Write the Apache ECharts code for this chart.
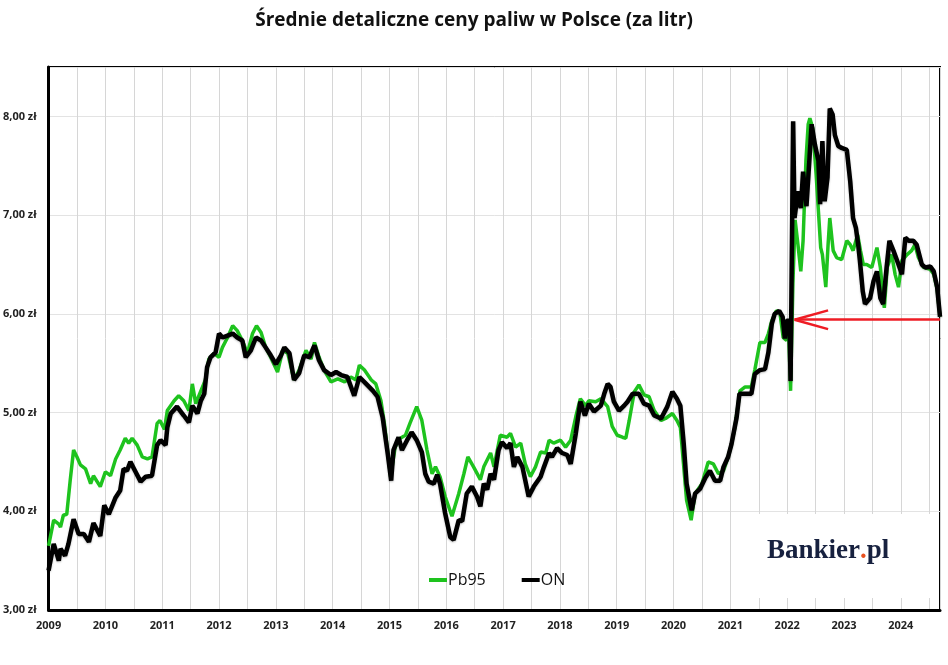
<!DOCTYPE html>
<html>
<head>
<meta charset="utf-8">
<script src="https://cdn.jsdelivr.net/npm/echarts@6/dist/echarts.min.js"></script>
<style>
  html, body { margin: 0; padding: 0; background: #fff; }
  #container { width: 948px; height: 665px; }
</style>
</head>
<body>
<div id="container"></div>
<script>
// [decimal year, price in zł]
let pb95 = [
  [2009.00,3.65],[2009.09,3.91],[2009.18,3.87],[2009.21,3.84],[2009.26,3.96],[2009.32,3.97],
  [2009.38,4.31],[2009.44,4.62],[2009.50,4.55],[2009.56,4.47],[2009.65,4.43],[2009.74,4.28],
  [2009.79,4.36],[2009.91,4.25],[2010.00,4.40],[2010.09,4.36],[2010.18,4.53],[2010.26,4.62],
  [2010.35,4.74],[2010.41,4.69],[2010.47,4.74],[2010.56,4.67],[2010.65,4.55],[2010.74,4.53],
  [2010.82,4.55],[2010.91,4.89],[2010.96,4.92],[2011.04,4.83],[2011.09,5.02],[2011.21,5.12],
  [2011.29,5.17],[2011.38,5.12],[2011.47,5.02],[2011.53,5.29],[2011.59,5.09],[2011.68,5.22],
  [2011.76,5.33],[2011.82,5.54],[2011.91,5.60],[2012.00,5.56],[2012.06,5.66],[2012.15,5.76],
  [2012.24,5.88],[2012.32,5.83],[2012.41,5.73],[2012.50,5.60],[2012.59,5.80],[2012.66,5.88],
  [2012.74,5.81],[2012.82,5.66],[2012.91,5.56],[2013.03,5.41],[2013.12,5.63],[2013.21,5.60],
  [2013.32,5.33],[2013.41,5.43],[2013.53,5.63],[2013.62,5.54],[2013.68,5.71],[2013.76,5.56],
  [2013.85,5.43],[2013.97,5.31],[2014.09,5.34],[2014.21,5.31],[2014.32,5.36],[2014.41,5.33],
  [2014.47,5.48],[2014.56,5.43],[2014.68,5.33],[2014.76,5.29],[2014.85,5.12],[2014.91,4.89],
  [2015.02,4.35],[2015.10,4.65],[2015.19,4.74],[2015.28,4.77],[2015.36,4.89],[2015.48,5.06],
  [2015.57,4.92],[2015.66,4.62],[2015.75,4.38],[2015.81,4.45],[2015.89,4.35],[2015.98,4.15],
  [2016.10,3.95],[2016.22,4.18],[2016.31,4.38],[2016.38,4.55],[2016.48,4.45],[2016.60,4.32],
  [2016.66,4.45],[2016.78,4.59],[2016.84,4.45],[2016.95,4.77],[2017.07,4.75],[2017.13,4.79],
  [2017.22,4.65],[2017.31,4.69],[2017.39,4.48],[2017.48,4.35],[2017.57,4.45],[2017.66,4.60],
  [2017.75,4.59],[2017.81,4.72],[2017.89,4.69],[2018.01,4.72],[2018.10,4.65],[2018.19,4.72],
  [2018.28,4.96],[2018.36,5.14],[2018.45,5.07],[2018.51,5.12],[2018.63,5.11],[2018.72,5.14],
  [2018.84,5.06],[2018.92,4.86],[2019.01,4.77],[2019.10,4.75],[2019.16,4.74],[2019.22,4.92],
  [2019.31,5.21],[2019.39,5.28],[2019.48,5.18],[2019.57,5.16],[2019.66,5.02],[2019.78,4.92],
  [2019.86,4.94],[2019.98,4.99],[2020.06,4.92],[2020.12,4.85],[2020.18,4.45],[2020.23,4.11],
  [2020.31,3.91],[2020.38,4.18],[2020.50,4.28],[2020.61,4.50],[2020.70,4.48],[2020.79,4.38],
  [2020.88,4.41],[2020.96,4.55],[2021.02,4.68],[2021.08,4.85],[2021.17,5.22],[2021.26,5.26],
  [2021.37,5.26],[2021.43,5.43],[2021.52,5.71],[2021.61,5.71],[2021.67,5.80],[2021.73,5.93],
  [2021.81,6.03],[2021.87,6.02],[2021.93,5.76],[2021.99,5.73],[2022.02,5.93],[2022.06,5.22],
  [2022.10,6.30],[2022.14,6.95],[2022.19,6.70],[2022.24,6.43],[2022.28,6.74],[2022.33,7.55],
  [2022.37,7.92],[2022.40,7.98],[2022.45,7.88],[2022.51,7.41],[2022.55,7.04],[2022.59,6.67],
  [2022.62,6.60],[2022.68,6.27],[2022.72,6.70],[2022.75,6.97],[2022.81,6.64],[2022.87,6.57],
  [2022.96,6.55],[2023.05,6.74],[2023.11,6.70],[2023.16,6.64],[2023.24,6.80],[2023.29,6.64],
  [2023.34,6.50],[2023.40,6.50],[2023.49,6.47],[2023.58,6.67],[2023.64,6.47],[2023.71,6.06],
  [2023.76,6.47],[2023.84,6.60],[2023.90,6.40],[2023.96,6.27],[2024.02,6.54],[2024.11,6.60],
  [2024.19,6.64],[2024.25,6.70],[2024.31,6.57],[2024.40,6.47],[2024.52,6.45],[2024.58,6.40],
  [2024.64,6.25],[2024.69,5.97]
];

let on = [
  [2009.00,3.40],[2009.09,3.67],[2009.18,3.50],[2009.21,3.62],[2009.29,3.55],[2009.35,3.67],
  [2009.44,3.92],[2009.53,3.77],[2009.62,3.77],[2009.71,3.69],[2009.79,3.88],[2009.91,3.75],
  [2009.98,4.06],[2010.06,3.97],[2010.18,4.14],[2010.26,4.21],[2010.32,4.43],[2010.38,4.41],
  [2010.44,4.50],[2010.53,4.40],[2010.62,4.30],[2010.71,4.35],[2010.82,4.36],[2010.91,4.67],
  [2010.97,4.72],[2011.06,4.67],[2011.09,4.85],[2011.15,4.99],[2011.26,5.06],[2011.38,4.97],
  [2011.47,4.90],[2011.53,5.07],[2011.62,4.99],[2011.68,5.12],[2011.74,5.19],[2011.79,5.46],
  [2011.85,5.56],[2011.94,5.61],[2012.00,5.80],[2012.06,5.76],[2012.15,5.78],[2012.24,5.80],
  [2012.32,5.76],[2012.41,5.73],[2012.47,5.56],[2012.56,5.63],[2012.65,5.76],[2012.74,5.73],
  [2012.82,5.66],[2012.91,5.58],[2013.00,5.49],[2013.09,5.58],[2013.15,5.66],[2013.24,5.60],
  [2013.32,5.33],[2013.41,5.40],[2013.50,5.58],[2013.59,5.56],[2013.68,5.68],[2013.76,5.53],
  [2013.85,5.43],[2013.97,5.38],[2014.06,5.41],[2014.15,5.38],[2014.26,5.36],[2014.38,5.17],
  [2014.47,5.36],[2014.59,5.29],[2014.71,5.22],[2014.79,5.16],[2014.88,4.95],[2014.97,4.58],
  [2015.03,4.31],[2015.07,4.62],[2015.16,4.75],[2015.22,4.62],[2015.31,4.72],[2015.39,4.80],
  [2015.48,4.72],[2015.57,4.60],[2015.63,4.38],[2015.69,4.30],[2015.78,4.28],[2015.84,4.37],
  [2015.89,4.28],[2015.98,3.98],[2016.07,3.74],[2016.13,3.71],[2016.22,3.91],[2016.28,3.90],
  [2016.36,4.18],[2016.45,4.25],[2016.54,4.15],[2016.60,4.05],[2016.66,4.28],[2016.72,4.22],
  [2016.78,4.38],[2016.84,4.32],[2016.92,4.62],[2016.98,4.70],[2017.07,4.64],[2017.13,4.69],
  [2017.19,4.45],[2017.25,4.55],[2017.34,4.45],[2017.45,4.15],[2017.54,4.25],[2017.66,4.35],
  [2017.72,4.45],[2017.81,4.59],[2017.86,4.55],[2017.95,4.64],[2018.04,4.59],[2018.13,4.57],
  [2018.19,4.48],[2018.28,4.79],[2018.36,5.11],[2018.44,4.97],[2018.51,5.09],[2018.60,5.01],
  [2018.72,5.07],[2018.78,5.19],[2018.84,5.29],[2018.89,5.26],[2018.95,5.11],[2019.04,5.02],
  [2019.13,5.07],[2019.19,5.11],[2019.28,5.19],[2019.39,5.19],[2019.48,5.09],[2019.57,5.07],
  [2019.66,4.97],[2019.78,4.94],[2019.89,5.06],[2019.98,5.21],[2020.06,5.14],[2020.12,5.07],
  [2020.18,4.68],[2020.23,4.28],[2020.32,4.01],[2020.38,4.18],[2020.47,4.23],[2020.56,4.34],
  [2020.64,4.41],[2020.73,4.31],[2020.82,4.31],[2020.88,4.45],[2020.96,4.55],[2021.02,4.68],
  [2021.11,4.95],[2021.16,5.19],[2021.26,5.19],[2021.37,5.19],[2021.43,5.39],[2021.52,5.43],
  [2021.61,5.44],[2021.67,5.61],[2021.73,5.90],[2021.78,6.00],[2021.86,6.03],[2021.92,5.97],
  [2021.96,5.75],[2021.99,5.93],[2022.04,5.93],[2022.06,5.32],[2022.105,7.95],[2022.13,6.97],
  [2022.19,7.24],[2022.24,7.07],[2022.28,7.44],[2022.31,7.46],[2022.34,7.09],[2022.39,7.55],
  [2022.43,7.92],[2022.49,7.71],[2022.55,7.55],[2022.58,7.11],[2022.62,7.75],[2022.66,7.14],
  [2022.71,7.38],[2022.75,8.08],[2022.80,8.02],[2022.84,7.81],[2022.90,7.70],[2022.96,7.68],
  [2023.05,7.66],[2023.11,7.34],[2023.16,6.97],[2023.21,6.87],[2023.25,6.70],[2023.28,6.54],
  [2023.33,6.23],[2023.37,6.10],[2023.46,6.16],[2023.52,6.33],[2023.58,6.43],[2023.64,6.16],
  [2023.69,6.10],[2023.75,6.47],[2023.80,6.74],[2023.87,6.64],[2023.96,6.50],[2024.02,6.40],
  [2024.08,6.77],[2024.14,6.74],[2024.22,6.74],[2024.28,6.70],[2024.37,6.50],[2024.43,6.47],
  [2024.52,6.48],[2024.58,6.43],[2024.64,6.27],[2024.69,5.97]
];

let seriesNames = ['Pb95', 'ON'];
let yearStart = 2009, yearEnd = 2024.69;

// red arrow pointing at the current price level
let arrowLevel = 5.94;
let arrowTip = 2022.13;
let arrowHeadEnd = 2022.72;
let arrowHeadSpread = 0.095;

let dom = document.getElementById('container');
let chart = echarts.init(dom);

let labelFont = {color: '#222', fontWeight: 'bold', fontSize: 11, fontFamily: 'Open Sans'};

chart.setOption({
  animation: false,
  title: {
    text: 'Średnie detaliczne ceny paliw w Polsce (za litr)',
    left: 'center',
    top: 6,
    textStyle: {fontSize: 19, fontWeight: 'bold', color: '#111', fontFamily: 'Open Sans'}
  },
  grid: {
    left: 48, right: 8, top: 67, bottom: 55,
    show: true, borderColor: '#000', borderWidth: 2, backgroundColor: 'transparent'
  },
  legend: {
    data: seriesNames,
    left: 424, top: 567,
    icon: 'rect', itemWidth: 18, itemHeight: 4, itemGap: 36,
    textStyle: {fontSize: 16, color: '#111', fontFamily: 'Open Sans', padding: [0, 0, 0, -4]}
  },
  xAxis: {
    type: 'value',
    min: yearStart, max: yearEnd, interval: 0.5,
    axisLine: {lineStyle: {color: '#000', width: 3}},
    axisTick: {show: false},
    splitLine: {lineStyle: {color: '#d6d6d6', width: 1}},
    axisLabel: Object.assign({
      margin: 10,
      formatter: (v) => (Math.abs(v - Math.round(v)) < 1e-6 ? String(Math.round(v)) : '')
    }, labelFont)
  },
  yAxis: {
    type: 'value',
    min: 3, max: 8.5, interval: 1,
    axisLine: {show: true, lineStyle: {color: '#000', width: 3}},
    axisTick: {show: false},
    splitLine: {lineStyle: {color: '#e3e3e3', width: 1}},
    axisLabel: Object.assign({
      margin: 12,
      formatter: (v) => (Math.abs(v - Math.round(v)) < 1e-6 ? v.toFixed(2).replace('.', ',') + ' zł' : '')
    }, labelFont)
  },
  series: [{
    name: 'Pb95',
    type: 'line',
    data: pb95,
    showSymbol: false,
    color: '#1ec31e',
    lineStyle: {width: 3.5, color: '#1ec31e'},
    emphasis: {disabled: true},
    z: 2
  }, {
    name: 'ON',
    type: 'line',
    data: on,
    showSymbol: false,
    color: '#000',
    lineStyle: {width: 4.5, color: '#000', shadowColor: 'rgba(0,0,0,0.25)', shadowBlur: 2, shadowOffsetY: 1},
    emphasis: {disabled: true},
    z: 3,
    markLine: {
      silent: true,
      symbol: 'none',
      label: {show: false},
      lineStyle: {color: '#ee1c24', width: 2.5, type: 'solid', shadowBlur: 0},
      data: [
        [{coord: [arrowTip, arrowLevel]}, {coord: [yearEnd, arrowLevel]}],
        [{coord: [arrowTip, arrowLevel]}, {coord: [arrowHeadEnd, arrowLevel + arrowHeadSpread]}],
        [{coord: [arrowTip, arrowLevel]}, {coord: [arrowHeadEnd, arrowLevel - arrowHeadSpread]}]
      ]
    }
  }],
  graphic: [{
    type: 'rect',
    z: 10,
    shape: {x: 733, y: 514, width: 205, height: 84},
    style: {fill: '#fff'}
  }, {
    type: 'text',
    z: 11,
    left: 767, top: 538,
    style: {
      text: '{a|Bankier}{b|.}{a|pl}',
      rich: {
        a: {fontSize: 27, fontWeight: 'bold', fontFamily: 'Liberation Serif', fill: '#17213f', color: '#17213f'},
        b: {fontSize: 27, fontWeight: 'bold', fontFamily: 'Liberation Serif', fill: '#e8501e', color: '#e8501e'}
      }
    }
  }]
});
</script>
</body>
</html>
